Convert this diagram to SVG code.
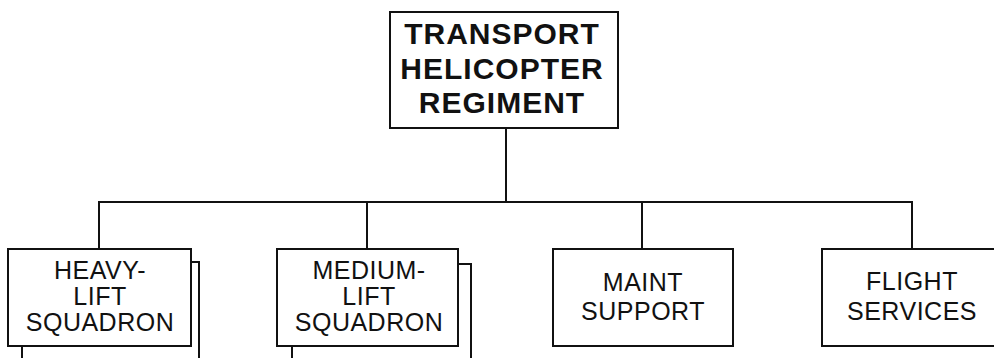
<svg xmlns="http://www.w3.org/2000/svg" width="994" height="358" viewBox="0 0 994 358">
<style>
.box{fill:#fff;stroke:#111;stroke-width:2}
.ln{fill:none;stroke:#111;stroke-width:2}
.t{font-family:"Liberation Sans",Arial,sans-serif;fill:#111;text-anchor:middle}
.b{font-weight:bold;font-size:30px;letter-spacing:1px}
.r{font-size:25px;letter-spacing:0.5px}
</style>
<rect width="994" height="358" fill="#fff"/>
<g id="connectors">
<line class="ln" x1="506" y1="128" x2="506" y2="202"/>
<line class="ln" x1="98" y1="202" x2="913" y2="202"/>
<line class="ln" x1="99" y1="202" x2="99" y2="249"/>
<line class="ln" x1="367" y1="202" x2="367" y2="249"/>
<line class="ln" x1="642" y1="202" x2="642" y2="249"/>
<line class="ln" x1="912" y1="202" x2="912" y2="249"/>
</g>
<g id="regiment">
<rect class="box" x="390" y="12" width="228" height="116"/>
<text class="t b" x="502" y="44">TRANSPORT</text>
<text class="t b" x="502" y="79">HELICOPTER</text>
<text class="t b" x="502" y="113">REGIMENT</text>
</g>
<g id="heavy-lift">
<rect class="box" x="22" y="262" width="177" height="130"/>
<rect class="box" x="8" y="249" width="183" height="97"/>
<text class="t r" x="100" y="279">HEAVY-</text>
<text class="t r" x="100" y="305">LIFT</text>
<text class="t r" x="100" y="331">SQUADRON</text>
</g>
<g id="medium-lift">
<rect class="box" x="292" y="264" width="179" height="130"/>
<rect class="box" x="277" y="249" width="181" height="97"/>
<text class="t r" x="369" y="279">MEDIUM-</text>
<text class="t r" x="369" y="305">LIFT</text>
<text class="t r" x="369" y="331">SQUADRON</text>
</g>
<g id="maint">
<rect class="box" x="553" y="249" width="180" height="97"/>
<text class="t r" x="643" y="291">MAINT</text>
<text class="t r" x="643" y="320">SUPPORT</text>
</g>
<g id="flight">
<rect class="box" x="822" y="249" width="182" height="97"/>
<text class="t r" x="912" y="290">FLIGHT</text>
<text class="t r" x="912" y="320">SERVICES</text>
</g>
</svg>
